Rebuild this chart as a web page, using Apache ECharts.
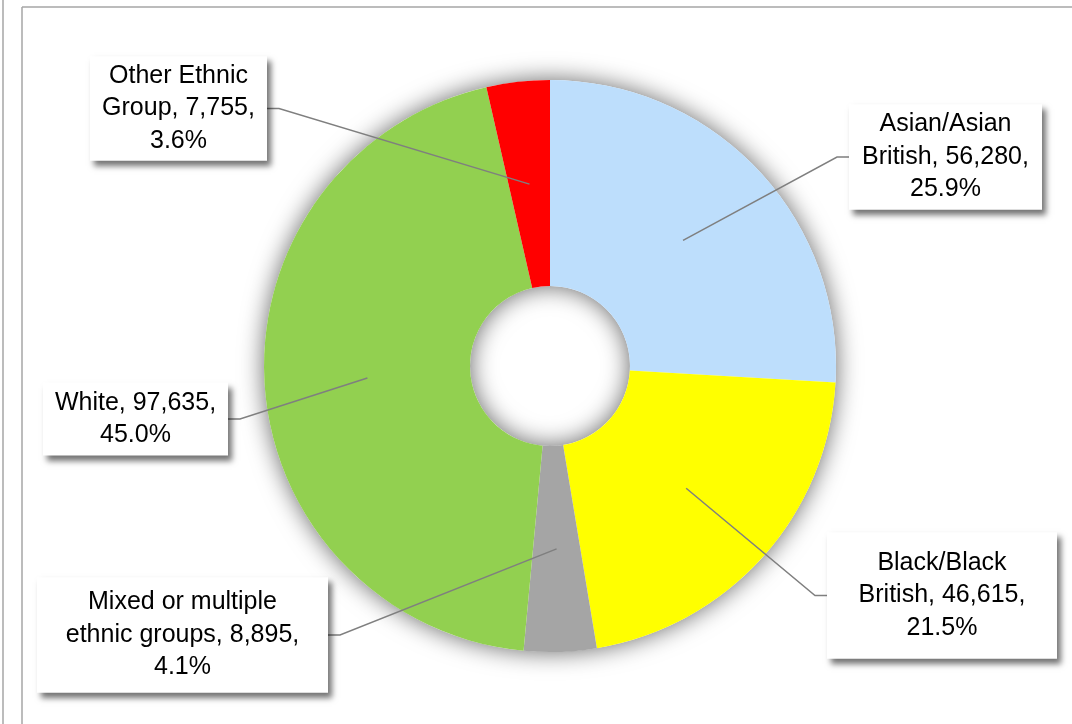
<!DOCTYPE html>
<html>
<head>
<meta charset="utf-8">
<style>
  html, body { margin: 0; padding: 0; background: #ffffff; }
  #chart { width: 1072px; height: 724px; }
</style>
<script src="https://cdn.jsdelivr.net/npm/echarts@6/dist/echarts.min.js"></script>
</head>
<body>
<div id="chart"></div>
<script>
// Population by ethnic group
const categories = [
  'Asian/Asian\nBritish',
  'Black/Black\nBritish',
  'Mixed or multiple\nethnic groups',
  'White',
  'Other Ethnic\nGroup'
];
const values = [56280, 46615, 8895, 97635, 7755];
const colors = ['#BDDEFC', '#FFFF00', '#A5A5A5', '#92D050', '#FF0000'];

// Callout boxes: centre, width and vertical padding of each label box
const boxes = [
  { cx: 945.5, cy: 157,   w: 193, pt: 2,  pb: 6,  side: 'right' },
  { cx: 942,   cy: 595.5, w: 230, pt: 14, pb: 15, side: 'right' },
  { cx: 182.5, cy: 635,   w: 291, pt: 9,  pb: 9,  side: 'left' },
  { cx: 135.5, cy: 419,   w: 185, pt: 4,  pb: 4,  side: 'left' },
  { cx: 178.5, cy: 108.5, w: 177, pt: 3,  pb: 4,  side: 'left' }
];

const CENTER = [550, 366];
const R_IN = 80, R_OUT = 286;
const total = values.reduce((a, b) => a + b, 0);

const fmtNum = v => v.toLocaleString('en-US');

const chart = echarts.init(document.getElementById('chart'), null, { renderer: 'canvas' });

chart.setOption({
  backgroundColor: '#ffffff',
  animation: false,
  graphic: [
    { type: 'line', z: 0, shape: { x1: 3, y1: 0, x2: 3, y2: 724 }, style: { stroke: '#a6a6a6', lineWidth: 1.5 } },
    { type: 'line', z: 0, shape: { x1: 22, y1: 7, x2: 22, y2: 724 }, style: { stroke: '#a6a6a6', lineWidth: 1.5 } },
    { type: 'line', z: 0, shape: { x1: 22, y1: 7, x2: 1072, y2: 7 }, style: { stroke: '#a6a6a6', lineWidth: 1.5 } }
  ],
  series: [
    // soft drop shadow beneath the ring
    {
      type: 'pie',
      z: 1,
      center: CENTER,
      radius: [R_IN, R_OUT],
      label: { show: false },
      labelLine: { show: false },
      data: [{
        name: 'ring',
        value: total,
        itemStyle: {
          color: '#fefefe',
          shadowBlur: 24,
          shadowColor: 'rgba(0,0,0,0.6)'
        }
      }]
    },
    // coloured slices
    {
      type: 'pie',
      z: 2,
      center: CENTER,
      radius: [R_IN, R_OUT],
      startAngle: 90,
      clockwise: true,
      label: { show: false },
      labelLine: { show: false },
      data: values.map((v, i) => ({ name: categories[i], value: v, itemStyle: { color: colors[i] } }))
    },
    // callouts and leader lines, drawn above the slices
    {
      type: 'pie',
      z: 3,
      center: CENTER,
      radius: [R_IN, R_OUT],
      startAngle: 90,
      clockwise: true,
      avoidLabelOverlap: false,
      emphasis: { disabled: true },
      data: values.map((v, i) => ({
        name: categories[i],
        value: v,
        itemStyle: { color: 'rgba(0,0,0,0)' },
        label: {
          width: boxes[i].w - 20,
          padding: [boxes[i].pt, 10, boxes[i].pb, 10]
        }
      })),
      label: {
        show: true,
        position: 'outside',
        formatter: p => p.name + ', ' + fmtNum(p.value) + ',\n' + (p.value / total * 100).toFixed(1) + '%',
        fontFamily: '"Liberation Sans", Arial, sans-serif',
        fontSize: 25,
        lineHeight: 32.5,
        color: '#000000',
        align: 'center',
        backgroundColor: '#ffffff',
        shadowColor: 'rgba(0,0,0,0.55)',
        shadowBlur: 6,
        shadowOffsetX: 4,
        shadowOffsetY: 5
      },
      labelLine: {
        show: true,
        lineStyle: { color: '#7f7f7f', width: 1.5 }
      },
      labelLayout: function (params) {
        const b = boxes[params.dataIndex];
        const p0 = params.labelLinePoints[0];
        const k = ((R_IN + R_OUT) / 2) / R_OUT;
        const start = [CENTER[0] + (p0[0] - CENTER[0]) * k, CENTER[1] + (p0[1] - CENTER[1]) * k];
        const edgeX = b.side === 'left' ? b.cx + b.w / 2 : b.cx - b.w / 2;
        const elbowX = b.side === 'left' ? edgeX + 12 : edgeX - 12;
        return {
          x: b.cx,
          y: b.cy,
          align: 'center',
          verticalAlign: 'middle',
          labelLinePoints: [start, [elbowX, b.cy], [edgeX, b.cy]]
        };
      }
    }
  ]
});
</script>
</body>
</html>
